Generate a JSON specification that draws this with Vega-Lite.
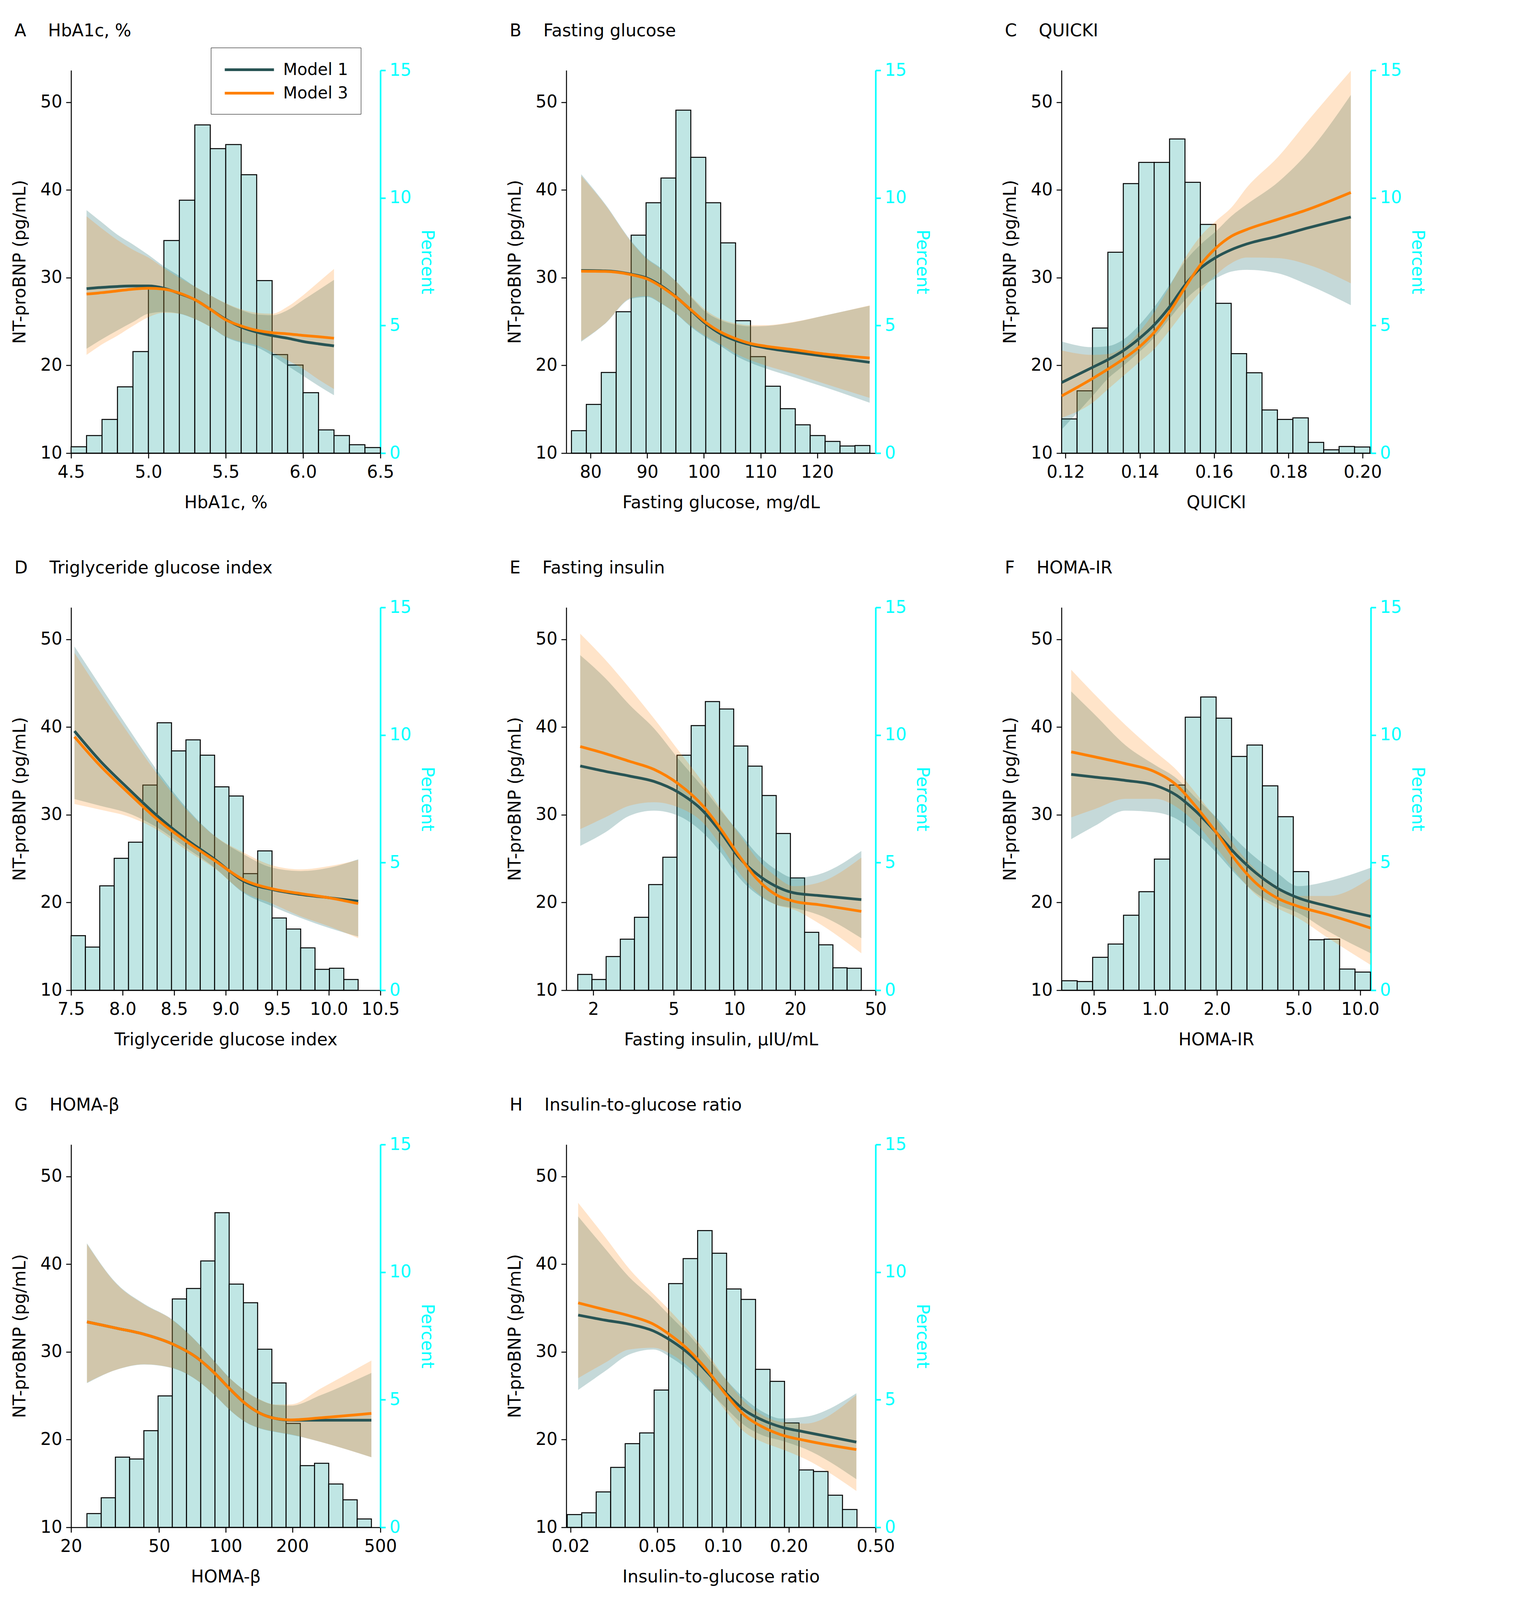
{
  "$schema": "https://vega.github.io/schema/vega-lite/v6.json",
  "padding": {"left": 29, "top": 57, "right": 30, "bottom": 30},
  "columns": 3,
  "bounds": "flush",
  "spacing": {"row": 395, "column": 476},
  "resolve": {"scale": {"stroke": "independent"}},
  "datasets": {
    "hA": [
      {"b0": 4.5, "b1": 4.6, "p": 0.25}, {"b0": 4.6, "b1": 4.7, "p": 0.69}, {"b0": 4.7, "b1": 4.8, "p": 1.32}, {"b0": 4.8, "b1": 4.9, "p": 2.6},
      {"b0": 4.9, "b1": 5.0, "p": 3.98}, {"b0": 5.0, "b1": 5.1, "p": 6.46}, {"b0": 5.1, "b1": 5.2, "p": 8.33}, {"b0": 5.2, "b1": 5.3, "p": 9.91},
      {"b0": 5.3, "b1": 5.4, "p": 12.86}, {"b0": 5.4, "b1": 5.5, "p": 11.93}, {"b0": 5.5, "b1": 5.6, "p": 12.09}, {"b0": 5.6, "b1": 5.7, "p": 10.91},
      {"b0": 5.7, "b1": 5.8, "p": 6.76}, {"b0": 5.8, "b1": 5.9, "p": 3.86}, {"b0": 5.9, "b1": 6.0, "p": 3.45}, {"b0": 6.0, "b1": 6.1, "p": 2.37},
      {"b0": 6.1, "b1": 6.2, "p": 0.91}, {"b0": 6.2, "b1": 6.3, "p": 0.69}, {"b0": 6.3, "b1": 6.4, "p": 0.33}, {"b0": 6.4, "b1": 6.5, "p": 0.22}
    ],
    "cA": [
      {"x": 4.6, "m": "Model 1", "fit": 28.75, "lo": 21.9, "hi": 37.7}, {"x": 4.7, "m": "Model 1", "fit": 28.9, "lo": 23.0, "hi": 36.3},
      {"x": 4.8, "m": "Model 1", "fit": 29.0, "lo": 24.0, "hi": 34.9}, {"x": 4.9, "m": "Model 1", "fit": 29.06, "lo": 24.95, "hi": 33.8},
      {"x": 5.0, "m": "Model 1", "fit": 29.06, "lo": 25.9, "hi": 32.6}, {"x": 5.1, "m": "Model 1", "fit": 28.8, "lo": 26.1, "hi": 31.3},
      {"x": 5.2, "m": "Model 1", "fit": 28.2, "lo": 25.9, "hi": 30.2}, {"x": 5.3, "m": "Model 1", "fit": 27.5, "lo": 25.3, "hi": 29.0},
      {"x": 5.4, "m": "Model 1", "fit": 26.4, "lo": 24.4, "hi": 28.0}, {"x": 5.5, "m": "Model 1", "fit": 25.26, "lo": 23.23, "hi": 27.06},
      {"x": 5.6, "m": "Model 1", "fit": 24.38, "lo": 22.58, "hi": 26.3}, {"x": 5.7, "m": "Model 1", "fit": 23.8, "lo": 22.08, "hi": 25.8},
      {"x": 5.8, "m": "Model 1", "fit": 23.4, "lo": 21.12, "hi": 25.72}, {"x": 5.9, "m": "Model 1", "fit": 23.1, "lo": 19.97, "hi": 26.3},
      {"x": 6.0, "m": "Model 1", "fit": 22.73, "lo": 18.82, "hi": 27.45}, {"x": 6.1, "m": "Model 1", "fit": 22.46, "lo": 17.67, "hi": 28.6},
      {"x": 6.2, "m": "Model 1", "fit": 22.23, "lo": 16.6, "hi": 29.75},
      {"x": 4.6, "m": "Model 3", "fit": 28.14, "lo": 21.2, "hi": 37.0}, {"x": 4.7, "m": "Model 3", "fit": 28.3, "lo": 22.4, "hi": 35.6},
      {"x": 4.8, "m": "Model 3", "fit": 28.5, "lo": 23.4, "hi": 34.3}, {"x": 4.9, "m": "Model 3", "fit": 28.7, "lo": 24.5, "hi": 33.2},
      {"x": 5.0, "m": "Model 3", "fit": 28.8, "lo": 25.5, "hi": 32.3}, {"x": 5.1, "m": "Model 3", "fit": 28.7, "lo": 26.0, "hi": 31.1},
      {"x": 5.2, "m": "Model 3", "fit": 28.25, "lo": 25.9, "hi": 30.0}, {"x": 5.3, "m": "Model 3", "fit": 27.5, "lo": 25.3, "hi": 29.0},
      {"x": 5.4, "m": "Model 3", "fit": 26.4, "lo": 24.4, "hi": 28.0}, {"x": 5.5, "m": "Model 3", "fit": 25.2, "lo": 23.3, "hi": 27.1},
      {"x": 5.6, "m": "Model 3", "fit": 24.5, "lo": 22.7, "hi": 26.4}, {"x": 5.7, "m": "Model 3", "fit": 24.0, "lo": 22.3, "hi": 26.0},
      {"x": 5.8, "m": "Model 3", "fit": 23.73, "lo": 21.5, "hi": 25.9}, {"x": 5.9, "m": "Model 3", "fit": 23.6, "lo": 20.6, "hi": 26.7},
      {"x": 6.0, "m": "Model 3", "fit": 23.42, "lo": 19.6, "hi": 28.0}, {"x": 6.1, "m": "Model 3", "fit": 23.27, "lo": 18.4, "hi": 29.5},
      {"x": 6.2, "m": "Model 3", "fit": 23.1, "lo": 17.3, "hi": 31.0}
    ],
    "hB": [
      {"b0": 76.61, "b1": 79.24, "p": 0.88}, {"b0": 79.24, "b1": 81.88, "p": 1.91}, {"b0": 81.88, "b1": 84.51, "p": 3.16}, {"b0": 84.51, "b1": 87.15, "p": 5.54},
      {"b0": 87.15, "b1": 89.78, "p": 8.54}, {"b0": 89.78, "b1": 92.41, "p": 9.81}, {"b0": 92.41, "b1": 95.05, "p": 10.78}, {"b0": 95.05, "b1": 97.68, "p": 13.44},
      {"b0": 97.68, "b1": 100.32, "p": 11.59}, {"b0": 100.32, "b1": 102.95, "p": 9.81}, {"b0": 102.95, "b1": 105.58, "p": 8.24}, {"b0": 105.58, "b1": 108.22, "p": 5.19},
      {"b0": 108.22, "b1": 110.85, "p": 3.78}, {"b0": 110.85, "b1": 113.49, "p": 2.62}, {"b0": 113.49, "b1": 116.12, "p": 1.74}, {"b0": 116.12, "b1": 118.75, "p": 1.11},
      {"b0": 118.75, "b1": 121.39, "p": 0.69}, {"b0": 121.39, "b1": 124.02, "p": 0.46}, {"b0": 124.02, "b1": 126.66, "p": 0.28}, {"b0": 126.66, "b1": 129.29, "p": 0.3}
    ],
    "cB": [
      {"x": 78.33, "m": "Model 1", "fit": 30.82, "lo": 22.7, "hi": 41.8}, {"x": 82.58, "m": "Model 1", "fit": 30.78, "lo": 24.76, "hi": 38.4},
      {"x": 87.15, "m": "Model 1", "fit": 30.4, "lo": 27.6, "hi": 34.2}, {"x": 90.0, "m": "Model 1", "fit": 29.94, "lo": 27.8, "hi": 32.2},
      {"x": 92.42, "m": "Model 1", "fit": 29.1, "lo": 27.06, "hi": 31.1}, {"x": 95.05, "m": "Model 1", "fit": 27.83, "lo": 25.9, "hi": 29.6},
      {"x": 97.69, "m": "Model 1", "fit": 26.3, "lo": 24.4, "hi": 27.8}, {"x": 100.32, "m": "Model 1", "fit": 24.76, "lo": 23.2, "hi": 26.1},
      {"x": 102.96, "m": "Model 1", "fit": 23.6, "lo": 22.2, "hi": 25.15}, {"x": 105.59, "m": "Model 1", "fit": 22.85, "lo": 21.1, "hi": 24.65},
      {"x": 108.23, "m": "Model 1", "fit": 22.35, "lo": 20.3, "hi": 24.45}, {"x": 110.86, "m": "Model 1", "fit": 22.0, "lo": 19.66, "hi": 24.5},
      {"x": 116.13, "m": "Model 1", "fit": 21.5, "lo": 18.6, "hi": 24.95}, {"x": 121.4, "m": "Model 1", "fit": 21.04, "lo": 17.5, "hi": 25.7},
      {"x": 129.25, "m": "Model 1", "fit": 20.35, "lo": 15.75, "hi": 26.8},
      {"x": 78.33, "m": "Model 3", "fit": 30.75, "lo": 22.8, "hi": 41.6}, {"x": 82.58, "m": "Model 3", "fit": 30.72, "lo": 24.8, "hi": 38.3},
      {"x": 87.15, "m": "Model 3", "fit": 30.35, "lo": 27.7, "hi": 34.1}, {"x": 90.0, "m": "Model 3", "fit": 29.85, "lo": 27.9, "hi": 32.1},
      {"x": 92.42, "m": "Model 3", "fit": 29.0, "lo": 27.1, "hi": 31.0}, {"x": 95.05, "m": "Model 3", "fit": 27.8, "lo": 25.95, "hi": 29.6},
      {"x": 97.69, "m": "Model 3", "fit": 26.35, "lo": 24.5, "hi": 27.9}, {"x": 100.32, "m": "Model 3", "fit": 24.9, "lo": 23.35, "hi": 26.3},
      {"x": 102.96, "m": "Model 3", "fit": 23.8, "lo": 22.4, "hi": 25.3}, {"x": 105.59, "m": "Model 3", "fit": 23.05, "lo": 21.35, "hi": 24.8},
      {"x": 108.23, "m": "Model 3", "fit": 22.5, "lo": 20.6, "hi": 24.6}, {"x": 110.86, "m": "Model 3", "fit": 22.2, "lo": 20.0, "hi": 24.6},
      {"x": 116.13, "m": "Model 3", "fit": 21.77, "lo": 19.0, "hi": 25.0}, {"x": 121.4, "m": "Model 3", "fit": 21.3, "lo": 17.9, "hi": 25.7},
      {"x": 129.25, "m": "Model 3", "fit": 20.85, "lo": 16.3, "hi": 26.85}
    ],
    "hC": [
      {"b0": 0.11894, "b1": 0.12309, "p": 1.34}, {"b0": 0.12309, "b1": 0.12724, "p": 2.44}, {"b0": 0.12724, "b1": 0.13139, "p": 4.9}, {"b0": 0.13139, "b1": 0.13554, "p": 7.87},
      {"b0": 0.13554, "b1": 0.1397, "p": 10.56}, {"b0": 0.1397, "b1": 0.14385, "p": 11.39}, {"b0": 0.14385, "b1": 0.148, "p": 11.39}, {"b0": 0.148, "b1": 0.15215, "p": 12.31},
      {"b0": 0.15215, "b1": 0.1563, "p": 10.61}, {"b0": 0.1563, "b1": 0.16045, "p": 8.96}, {"b0": 0.16045, "b1": 0.1646, "p": 5.87}, {"b0": 0.1646, "b1": 0.16875, "p": 3.9},
      {"b0": 0.16875, "b1": 0.1729, "p": 3.15}, {"b0": 0.1729, "b1": 0.17705, "p": 1.69}, {"b0": 0.17705, "b1": 0.18121, "p": 1.32}, {"b0": 0.18121, "b1": 0.18536, "p": 1.38},
      {"b0": 0.18536, "b1": 0.18951, "p": 0.42}, {"b0": 0.18951, "b1": 0.19366, "p": 0.13}, {"b0": 0.19366, "b1": 0.19781, "p": 0.26}, {"b0": 0.19781, "b1": 0.20196, "p": 0.24}
    ],
    "cC": [
      {"x": 0.11894, "m": "Model 1", "fit": 18.05, "lo": 12.68, "hi": 22.73}, {"x": 0.12727, "m": "Model 1", "fit": 19.78, "lo": 16.52, "hi": 22.08},
      {"x": 0.13143, "m": "Model 1", "fit": 20.66, "lo": 18.51, "hi": 22.2}, {"x": 0.13559, "m": "Model 1", "fit": 21.7, "lo": 19.97, "hi": 22.96},
      {"x": 0.13976, "m": "Model 1", "fit": 23.04, "lo": 21.5, "hi": 24.57}, {"x": 0.14392, "m": "Model 1", "fit": 24.65, "lo": 23.23, "hi": 26.68},
      {"x": 0.148, "m": "Model 1", "fit": 26.68, "lo": 25.34, "hi": 29.17}, {"x": 0.15216, "m": "Model 1", "fit": 29.17, "lo": 27.45, "hi": 31.86},
      {"x": 0.15633, "m": "Model 1", "fit": 31.09, "lo": 28.98, "hi": 33.77}, {"x": 0.16049, "m": "Model 1", "fit": 32.32, "lo": 29.94, "hi": 35.3},
      {"x": 0.16465, "m": "Model 1", "fit": 33.2, "lo": 30.7, "hi": 37.03}, {"x": 0.16882, "m": "Model 1", "fit": 33.85, "lo": 30.9, "hi": 38.37},
      {"x": 0.17714, "m": "Model 1", "fit": 34.73, "lo": 30.51, "hi": 40.87}, {"x": 0.18539, "m": "Model 1", "fit": 35.69, "lo": 29.17, "hi": 44.32},
      {"x": 0.19682, "m": "Model 1", "fit": 36.92, "lo": 26.87, "hi": 50.84},
      {"x": 0.11894, "m": "Model 3", "fit": 16.52, "lo": 14.03, "hi": 21.7}, {"x": 0.12727, "m": "Model 3", "fit": 18.51, "lo": 15.75, "hi": 21.2},
      {"x": 0.13143, "m": "Model 3", "fit": 19.59, "lo": 17.29, "hi": 21.3}, {"x": 0.13559, "m": "Model 3", "fit": 20.74, "lo": 18.82, "hi": 22.08},
      {"x": 0.13976, "m": "Model 3", "fit": 22.08, "lo": 20.35, "hi": 23.8}, {"x": 0.14392, "m": "Model 3", "fit": 23.8, "lo": 21.89, "hi": 26.1},
      {"x": 0.148, "m": "Model 3", "fit": 26.1, "lo": 24.0, "hi": 28.98}, {"x": 0.15216, "m": "Model 3", "fit": 28.87, "lo": 26.3, "hi": 32.24},
      {"x": 0.15633, "m": "Model 3", "fit": 31.47, "lo": 28.4, "hi": 34.73}, {"x": 0.16049, "m": "Model 3", "fit": 33.39, "lo": 30.32, "hi": 36.46},
      {"x": 0.16465, "m": "Model 3", "fit": 34.73, "lo": 31.66, "hi": 38.0}, {"x": 0.16882, "m": "Model 3", "fit": 35.5, "lo": 32.3, "hi": 40.3},
      {"x": 0.17714, "m": "Model 3", "fit": 36.65, "lo": 32.24, "hi": 43.74}, {"x": 0.18539, "m": "Model 3", "fit": 37.8, "lo": 31.47, "hi": 47.96},
      {"x": 0.19682, "m": "Model 3", "fit": 39.72, "lo": 29.36, "hi": 53.6}
    ],
    "hD": [
      {"b0": 7.5, "b1": 7.639, "p": 2.14}, {"b0": 7.639, "b1": 7.778, "p": 1.69}, {"b0": 7.778, "b1": 7.918, "p": 4.09}, {"b0": 7.918, "b1": 8.057, "p": 5.17},
      {"b0": 8.057, "b1": 8.196, "p": 5.8}, {"b0": 8.196, "b1": 8.335, "p": 8.04}, {"b0": 8.335, "b1": 8.474, "p": 10.48}, {"b0": 8.474, "b1": 8.614, "p": 9.38},
      {"b0": 8.614, "b1": 8.753, "p": 9.81}, {"b0": 8.753, "b1": 8.892, "p": 9.21}, {"b0": 8.892, "b1": 9.031, "p": 7.97}, {"b0": 9.031, "b1": 9.17, "p": 7.61},
      {"b0": 9.17, "b1": 9.31, "p": 4.57}, {"b0": 9.31, "b1": 9.449, "p": 5.46}, {"b0": 9.449, "b1": 9.588, "p": 2.83}, {"b0": 9.588, "b1": 9.727, "p": 2.4},
      {"b0": 9.727, "b1": 9.866, "p": 1.66}, {"b0": 9.866, "b1": 10.006, "p": 0.82}, {"b0": 10.006, "b1": 10.145, "p": 0.86}, {"b0": 10.145, "b1": 10.284, "p": 0.42}
    ],
    "cD": [
      {"x": 7.533, "m": "Model 1", "fit": 39.55, "lo": 31.8, "hi": 49.2}, {"x": 7.778, "m": "Model 1", "fit": 36.2, "lo": 31.05, "hi": 44.8},
      {"x": 8.056, "m": "Model 1", "fit": 32.97, "lo": 30.18, "hi": 39.86}, {"x": 8.334, "m": "Model 1", "fit": 29.9, "lo": 28.57, "hi": 35.07},
      {"x": 8.614, "m": "Model 1", "fit": 27.24, "lo": 26.28, "hi": 30.86}, {"x": 8.892, "m": "Model 1", "fit": 24.94, "lo": 23.98, "hi": 27.6},
      {"x": 9.173, "m": "Model 1", "fit": 22.45, "lo": 21.1, "hi": 25.5}, {"x": 9.451, "m": "Model 1", "fit": 21.49, "lo": 19.57, "hi": 23.97},
      {"x": 9.729, "m": "Model 1", "fit": 20.92, "lo": 18.23, "hi": 23.59}, {"x": 10.007, "m": "Model 1", "fit": 20.54, "lo": 17.08, "hi": 23.97},
      {"x": 10.285, "m": "Model 1", "fit": 20.15, "lo": 16.12, "hi": 24.93},
      {"x": 7.533, "m": "Model 3", "fit": 38.9, "lo": 31.24, "hi": 48.47}, {"x": 7.778, "m": "Model 3", "fit": 35.65, "lo": 30.6, "hi": 44.07},
      {"x": 8.056, "m": "Model 3", "fit": 32.5, "lo": 29.8, "hi": 39.28}, {"x": 8.334, "m": "Model 3", "fit": 29.5, "lo": 28.3, "hi": 34.69},
      {"x": 8.614, "m": "Model 3", "fit": 27.0, "lo": 26.0, "hi": 30.67}, {"x": 8.892, "m": "Model 3", "fit": 24.8, "lo": 23.9, "hi": 27.6},
      {"x": 9.173, "m": "Model 3", "fit": 22.6, "lo": 21.2, "hi": 25.7}, {"x": 9.451, "m": "Model 3", "fit": 21.56, "lo": 19.88, "hi": 24.24},
      {"x": 9.729, "m": "Model 3", "fit": 21.02, "lo": 18.42, "hi": 23.78}, {"x": 10.007, "m": "Model 3", "fit": 20.53, "lo": 17.27, "hi": 24.16},
      {"x": 10.285, "m": "Model 3", "fit": 19.88, "lo": 15.93, "hi": 24.87}
    ],
    "hE": [
      {"b0": 1.675, "b1": 1.97, "p": 0.62}, {"b0": 1.97, "b1": 2.315, "p": 0.42}, {"b0": 2.315, "b1": 2.721, "p": 1.32}, {"b0": 2.721, "b1": 3.198, "p": 2.0},
      {"b0": 3.198, "b1": 3.76, "p": 2.86}, {"b0": 3.76, "b1": 4.419, "p": 4.14}, {"b0": 4.419, "b1": 5.194, "p": 5.21}, {"b0": 5.194, "b1": 6.106, "p": 9.21},
      {"b0": 6.106, "b1": 7.177, "p": 10.37}, {"b0": 7.177, "b1": 8.436, "p": 11.31}, {"b0": 8.436, "b1": 9.915, "p": 11.02}, {"b0": 9.915, "b1": 11.65, "p": 9.57},
      {"b0": 11.65, "b1": 13.7, "p": 8.78}, {"b0": 13.7, "b1": 16.1, "p": 7.63}, {"b0": 16.1, "b1": 18.93, "p": 6.14}, {"b0": 18.93, "b1": 22.25, "p": 4.4},
      {"b0": 22.25, "b1": 26.15, "p": 2.27}, {"b0": 26.15, "b1": 30.74, "p": 1.78}, {"b0": 30.74, "b1": 36.13, "p": 0.88}, {"b0": 36.13, "b1": 42.47, "p": 0.86}
    ],
    "cE": [
      {"x": 1.723, "m": "Model 1", "fit": 35.57, "lo": 26.46, "hi": 48.2}, {"x": 2.29, "m": "Model 1", "fit": 34.96, "lo": 27.99, "hi": 45.6},
      {"x": 3.024, "m": "Model 1", "fit": 34.42, "lo": 29.9, "hi": 42.54}, {"x": 3.993, "m": "Model 1", "fit": 33.81, "lo": 30.48, "hi": 39.86},
      {"x": 5.27, "m": "Model 1", "fit": 32.58, "lo": 29.9, "hi": 36.41}, {"x": 6.96, "m": "Model 1", "fit": 30.48, "lo": 27.99, "hi": 33.16},
      {"x": 8.57, "m": "Model 1", "fit": 27.99, "lo": 25.69, "hi": 30.48}, {"x": 10.56, "m": "Model 1", "fit": 25.12, "lo": 22.82, "hi": 27.99},
      {"x": 13.0, "m": "Model 1", "fit": 23.2, "lo": 20.91, "hi": 25.5}, {"x": 16.01, "m": "Model 1", "fit": 21.87, "lo": 19.77, "hi": 23.78},
      {"x": 19.72, "m": "Model 1", "fit": 21.1, "lo": 19.38, "hi": 22.82}, {"x": 26.04, "m": "Model 1", "fit": 20.8, "lo": 18.61, "hi": 23.2},
      {"x": 42.5, "m": "Model 1", "fit": 20.33, "lo": 15.93, "hi": 25.88},
      {"x": 1.723, "m": "Model 3", "fit": 37.79, "lo": 28.37, "hi": 50.65}, {"x": 2.29, "m": "Model 3", "fit": 36.99, "lo": 29.71, "hi": 47.7},
      {"x": 3.024, "m": "Model 3", "fit": 36.1, "lo": 31.05, "hi": 44.45}, {"x": 3.993, "m": "Model 3", "fit": 35.19, "lo": 31.44, "hi": 41.0},
      {"x": 5.27, "m": "Model 3", "fit": 33.54, "lo": 30.86, "hi": 37.37}, {"x": 6.96, "m": "Model 3", "fit": 31.05, "lo": 29.14, "hi": 33.73},
      {"x": 8.57, "m": "Model 3", "fit": 28.37, "lo": 26.46, "hi": 30.67}, {"x": 10.56, "m": "Model 3", "fit": 25.31, "lo": 23.4, "hi": 27.8},
      {"x": 13.0, "m": "Model 3", "fit": 22.63, "lo": 21.1, "hi": 24.93}, {"x": 16.01, "m": "Model 3", "fit": 20.91, "lo": 19.77, "hi": 23.01},
      {"x": 19.72, "m": "Model 3", "fit": 20.14, "lo": 19.19, "hi": 21.87}, {"x": 26.04, "m": "Model 3", "fit": 19.76, "lo": 17.66, "hi": 22.25},
      {"x": 42.5, "m": "Model 3", "fit": 18.99, "lo": 14.21, "hi": 25.12}
    ],
    "hF": [
      {"b0": 0.3491, "b1": 0.4151, "p": 0.37}, {"b0": 0.4151, "b1": 0.4939, "p": 0.34}, {"b0": 0.4939, "b1": 0.5875, "p": 1.29}, {"b0": 0.5875, "b1": 0.6989, "p": 1.81},
      {"b0": 0.6989, "b1": 0.8313, "p": 2.94}, {"b0": 0.8313, "b1": 0.9888, "p": 3.86}, {"b0": 0.9888, "b1": 1.1763, "p": 5.14}, {"b0": 1.1763, "b1": 1.3992, "p": 8.04},
      {"b0": 1.3992, "b1": 1.6643, "p": 10.7}, {"b0": 1.6643, "b1": 1.9797, "p": 11.49}, {"b0": 1.9797, "b1": 2.3547, "p": 10.66}, {"b0": 2.3547, "b1": 2.801, "p": 9.16},
      {"b0": 2.801, "b1": 3.332, "p": 9.61}, {"b0": 3.332, "b1": 3.9628, "p": 8.01}, {"b0": 3.9628, "b1": 4.7141, "p": 6.8}, {"b0": 4.7141, "b1": 5.608, "p": 4.65},
      {"b0": 5.608, "b1": 6.67, "p": 1.98}, {"b0": 6.67, "b1": 7.934, "p": 2.0}, {"b0": 7.934, "b1": 9.4365, "p": 0.83}, {"b0": 9.4365, "b1": 11.225, "p": 0.71}
    ],
    "cF": [
      {"x": 0.388, "m": "Model 1", "fit": 34.61, "lo": 27.23, "hi": 44.07}, {"x": 0.5077, "m": "Model 1", "fit": 34.3, "lo": 28.76, "hi": 41.39},
      {"x": 0.714, "m": "Model 1", "fit": 33.92, "lo": 30.48, "hi": 37.94}, {"x": 1.0, "m": "Model 1", "fit": 33.35, "lo": 30.29, "hi": 35.65},
      {"x": 1.274, "m": "Model 1", "fit": 32.2, "lo": 29.52, "hi": 34.12}, {"x": 1.563, "m": "Model 1", "fit": 30.48, "lo": 27.99, "hi": 32.01},
      {"x": 1.983, "m": "Model 1", "fit": 27.99, "lo": 25.69, "hi": 29.71}, {"x": 2.517, "m": "Model 1", "fit": 25.31, "lo": 23.01, "hi": 27.03},
      {"x": 3.087, "m": "Model 1", "fit": 23.4, "lo": 21.1, "hi": 25.12}, {"x": 3.92, "m": "Model 1", "fit": 21.67, "lo": 19.77, "hi": 23.4},
      {"x": 4.975, "m": "Model 1", "fit": 20.53, "lo": 18.82, "hi": 21.87}, {"x": 6.994, "m": "Model 1", "fit": 19.57, "lo": 16.71, "hi": 22.44},
      {"x": 11.27, "m": "Model 1", "fit": 18.42, "lo": 14.21, "hi": 23.97},
      {"x": 0.388, "m": "Model 3", "fit": 37.18, "lo": 29.71, "hi": 46.55}, {"x": 0.5077, "m": "Model 3", "fit": 36.6, "lo": 30.67, "hi": 43.68},
      {"x": 0.714, "m": "Model 3", "fit": 35.84, "lo": 31.82, "hi": 40.24}, {"x": 1.0, "m": "Model 3", "fit": 34.88, "lo": 31.82, "hi": 37.18},
      {"x": 1.274, "m": "Model 3", "fit": 33.35, "lo": 30.86, "hi": 35.07}, {"x": 1.563, "m": "Model 3", "fit": 31.05, "lo": 29.14, "hi": 32.58},
      {"x": 1.983, "m": "Model 3", "fit": 27.99, "lo": 26.27, "hi": 29.52}, {"x": 2.517, "m": "Model 3", "fit": 24.55, "lo": 23.2, "hi": 26.07},
      {"x": 3.087, "m": "Model 3", "fit": 22.25, "lo": 20.91, "hi": 23.78}, {"x": 3.92, "m": "Model 3", "fit": 20.53, "lo": 19.38, "hi": 21.87},
      {"x": 4.975, "m": "Model 3", "fit": 19.57, "lo": 18.23, "hi": 20.74}, {"x": 6.994, "m": "Model 3", "fit": 18.61, "lo": 15.93, "hi": 20.74},
      {"x": 11.27, "m": "Model 3", "fit": 17.08, "lo": 12.87, "hi": 22.82}
    ],
    "hG": [
      {"b0": 23.59, "b1": 27.36, "p": 0.54}, {"b0": 27.36, "b1": 31.72, "p": 1.16}, {"b0": 31.72, "b1": 36.78, "p": 2.75}, {"b0": 36.78, "b1": 42.65, "p": 2.68},
      {"b0": 42.65, "b1": 49.45, "p": 3.79}, {"b0": 49.45, "b1": 57.34, "p": 5.15}, {"b0": 57.34, "b1": 66.49, "p": 8.95}, {"b0": 66.49, "b1": 77.09, "p": 9.36},
      {"b0": 77.09, "b1": 89.39, "p": 10.44}, {"b0": 89.39, "b1": 103.65, "p": 12.33}, {"b0": 103.65, "b1": 120.18, "p": 9.53}, {"b0": 120.18, "b1": 139.36, "p": 8.8},
      {"b0": 139.36, "b1": 161.59, "p": 6.98}, {"b0": 161.59, "b1": 187.37, "p": 5.66}, {"b0": 187.37, "b1": 217.26, "p": 4.07}, {"b0": 217.26, "b1": 251.92, "p": 2.42},
      {"b0": 251.92, "b1": 292.11, "p": 2.51}, {"b0": 292.11, "b1": 338.71, "p": 1.7}, {"b0": 338.71, "b1": 392.74, "p": 1.08}, {"b0": 392.74, "b1": 455.39, "p": 0.33}
    ],
    "cG": [
      {"x": 23.59, "m": "Model 1", "fit": 33.43, "lo": 26.44, "hi": 42.39}, {"x": 32.2, "m": "Model 1", "fit": 32.7, "lo": 27.98, "hi": 37.78},
      {"x": 42.86, "m": "Model 1", "fit": 32.01, "lo": 28.56, "hi": 35.47}, {"x": 57.04, "m": "Model 1", "fit": 30.94, "lo": 28.17, "hi": 33.74},
      {"x": 73.54, "m": "Model 1", "fit": 29.4, "lo": 26.83, "hi": 31.24}, {"x": 88.96, "m": "Model 1", "fit": 27.6, "lo": 25.1, "hi": 28.94},
      {"x": 104.3, "m": "Model 1", "fit": 25.79, "lo": 23.37, "hi": 27.02}, {"x": 122.3, "m": "Model 1", "fit": 24.14, "lo": 22.02, "hi": 25.56},
      {"x": 143.3, "m": "Model 1", "fit": 22.99, "lo": 21.26, "hi": 24.52}, {"x": 168.0, "m": "Model 1", "fit": 22.41, "lo": 20.87, "hi": 23.95},
      {"x": 196.9, "m": "Model 1", "fit": 22.22, "lo": 20.56, "hi": 23.87}, {"x": 270.4, "m": "Model 1", "fit": 22.22, "lo": 19.72, "hi": 25.1},
      {"x": 455.3, "m": "Model 1", "fit": 22.22, "lo": 17.99, "hi": 27.6},
      {"x": 23.59, "m": "Model 3", "fit": 33.43, "lo": 26.5, "hi": 42.3}, {"x": 32.2, "m": "Model 3", "fit": 32.7, "lo": 28.0, "hi": 37.7},
      {"x": 42.86, "m": "Model 3", "fit": 32.01, "lo": 28.6, "hi": 35.4}, {"x": 57.04, "m": "Model 3", "fit": 30.94, "lo": 28.2, "hi": 33.7},
      {"x": 73.54, "m": "Model 3", "fit": 29.4, "lo": 26.85, "hi": 31.2}, {"x": 88.96, "m": "Model 3", "fit": 27.6, "lo": 25.1, "hi": 28.9},
      {"x": 104.3, "m": "Model 3", "fit": 25.79, "lo": 23.4, "hi": 27.0}, {"x": 122.3, "m": "Model 3", "fit": 24.14, "lo": 22.05, "hi": 25.6},
      {"x": 143.3, "m": "Model 3", "fit": 22.99, "lo": 21.3, "hi": 24.55}, {"x": 168.0, "m": "Model 3", "fit": 22.41, "lo": 20.9, "hi": 24.0},
      {"x": 196.9, "m": "Model 3", "fit": 22.25, "lo": 20.6, "hi": 24.02}, {"x": 270.4, "m": "Model 3", "fit": 22.49, "lo": 19.72, "hi": 25.87},
      {"x": 455.3, "m": "Model 3", "fit": 22.99, "lo": 18.0, "hi": 29.02}
    ],
    "hH": [
      {"b0": 0.019311, "b1": 0.022502, "p": 0.5}, {"b0": 0.022502, "b1": 0.026214, "p": 0.57}, {"b0": 0.026214, "b1": 0.030545, "p": 1.39}, {"b0": 0.030545, "b1": 0.03559, "p": 2.35},
      {"b0": 0.03559, "b1": 0.041466, "p": 3.28}, {"b0": 0.041466, "b1": 0.048316, "p": 3.7}, {"b0": 0.048316, "b1": 0.056298, "p": 5.38}, {"b0": 0.056298, "b1": 0.065597, "p": 9.55},
      {"b0": 0.065597, "b1": 0.076432, "p": 10.53}, {"b0": 0.076432, "b1": 0.089056, "p": 11.63}, {"b0": 0.089056, "b1": 0.10377, "p": 10.74}, {"b0": 0.10377, "b1": 0.1209, "p": 9.34},
      {"b0": 0.1209, "b1": 0.14087, "p": 8.93}, {"b0": 0.14087, "b1": 0.16415, "p": 6.19}, {"b0": 0.16415, "b1": 0.19126, "p": 5.72}, {"b0": 0.19126, "b1": 0.22286, "p": 4.09},
      {"b0": 0.22286, "b1": 0.25967, "p": 2.25}, {"b0": 0.25967, "b1": 0.30256, "p": 2.19}, {"b0": 0.30256, "b1": 0.35254, "p": 1.26}, {"b0": 0.35254, "b1": 0.41077, "p": 0.7}
    ],
    "cH": [
      {"x": 0.02167, "m": "Model 1", "fit": 34.2, "lo": 25.67, "hi": 45.46}, {"x": 0.02872, "m": "Model 1", "fit": 33.63, "lo": 27.79, "hi": 41.81},
      {"x": 0.03711, "m": "Model 1", "fit": 33.17, "lo": 29.71, "hi": 38.54}, {"x": 0.04793, "m": "Model 1", "fit": 32.4, "lo": 30.28, "hi": 36.05},
      {"x": 0.05808, "m": "Model 1", "fit": 31.25, "lo": 29.32, "hi": 33.93}, {"x": 0.07041, "m": "Model 1", "fit": 29.71, "lo": 27.79, "hi": 31.82},
      {"x": 0.08533, "m": "Model 1", "fit": 27.6, "lo": 25.67, "hi": 29.32}, {"x": 0.1034, "m": "Model 1", "fit": 25.29, "lo": 23.56, "hi": 26.83},
      {"x": 0.12524, "m": "Model 1", "fit": 23.37, "lo": 21.64, "hi": 24.71}, {"x": 0.15181, "m": "Model 1", "fit": 22.22, "lo": 20.49, "hi": 23.18},
      {"x": 0.18395, "m": "Model 1", "fit": 21.45, "lo": 19.91, "hi": 22.41}, {"x": 0.2377, "m": "Model 1", "fit": 20.87, "lo": 18.95, "hi": 22.6},
      {"x": 0.4082, "m": "Model 1", "fit": 19.72, "lo": 15.49, "hi": 25.29},
      {"x": 0.02167, "m": "Model 3", "fit": 35.59, "lo": 27.02, "hi": 47.0}, {"x": 0.02872, "m": "Model 3", "fit": 34.82, "lo": 28.75, "hi": 43.15},
      {"x": 0.03711, "m": "Model 3", "fit": 34.13, "lo": 30.28, "hi": 39.5}, {"x": 0.04793, "m": "Model 3", "fit": 33.17, "lo": 30.48, "hi": 36.62},
      {"x": 0.05808, "m": "Model 3", "fit": 31.82, "lo": 29.71, "hi": 34.51}, {"x": 0.07041, "m": "Model 3", "fit": 30.09, "lo": 28.17, "hi": 32.21},
      {"x": 0.08533, "m": "Model 3", "fit": 27.79, "lo": 25.87, "hi": 29.71}, {"x": 0.1034, "m": "Model 3", "fit": 25.1, "lo": 23.18, "hi": 26.83},
      {"x": 0.12524, "m": "Model 3", "fit": 22.79, "lo": 20.87, "hi": 24.33}, {"x": 0.15181, "m": "Model 3", "fit": 21.45, "lo": 19.72, "hi": 22.79},
      {"x": 0.18395, "m": "Model 3", "fit": 20.56, "lo": 18.95, "hi": 22.02}, {"x": 0.2377, "m": "Model 3", "fit": 19.91, "lo": 17.8, "hi": 21.83},
      {"x": 0.4082, "m": "Model 3", "fit": 18.87, "lo": 14.15, "hi": 25.1}
    ]
  },
  "concat": [
    {
      "width": 792, "height": 980,
      "title": {"text": "A\u00a0\u00a0\u00a0\u00a0HbA1c, %", "offset": 20},
      "layer": [
        {"data": {"name": "hA"}, "mark": {"type": "rect", "fill": "#c0e6e4", "stroke": "black", "strokeWidth": 2.5},
         "encoding": {
           "x": {"field": "b0", "type": "quantitative", "scale": {"domain": [4.5, 6.5], "nice": false, "zero": false}, "axis": {"values": [4.5, 5, 5.5, 6, 6.5], "format": ".1f"}, "title": "HbA1c, %"},
           "x2": {"field": "b1"},
           "y": {"field": "p", "type": "quantitative", "scale": {"domain": [0, 15], "nice": false}, "axis": {"orient": "right", "values": [0, 5, 10, 15]}, "title": "Percent"},
           "y2": {"datum": 0}
         }},
        {"data": {"name": "cA"},
         "encoding": {"x": {"field": "x", "type": "quantitative", "scale": {"domain": [4.5, 6.5], "nice": false, "zero": false}, "title": "HbA1c, %"}},
         "layer": [
           {"transform": [{"filter": "datum.m == 'Model 1'"}],
            "mark": {"type": "area", "interpolate": "monotone", "clip": true, "fill": "#176767", "fillOpacity": 0.25},
            "encoding": {
              "y": {"field": "lo", "type": "quantitative", "scale": {"domain": [10, 53.65], "nice": false, "zero": false}, "axis": {"orient": "left", "values": [10, 20, 30, 40, 50]}, "title": "NT-proBNP (pg/mL)"},
              "y2": {"field": "hi"}
            }},
           {"transform": [{"filter": "datum.m == 'Model 3'"}],
            "mark": {"type": "area", "interpolate": "monotone", "clip": true, "fill": "#ff8000", "fillOpacity": 0.21},
            "encoding": {"y": {"field": "lo", "type": "quantitative", "title": "NT-proBNP (pg/mL)"}, "y2": {"field": "hi"}}},
           {"mark": {"type": "line", "interpolate": "monotone", "strokeWidth": 7, "clip": true},
            "encoding": {
              "y": {"field": "fit", "type": "quantitative", "title": "NT-proBNP (pg/mL)"},
              "stroke": {"field": "m", "type": "nominal", "scale": {"domain": ["Model 1", "Model 3"], "range": ["#285454", "#ff8000"]},
                "legend": {"title": null, "orient": "none", "legendX": 358, "legendY": -58, "strokeColor": "black", "fillColor": "white", "padding": 32,
                  "labelFontSize": 42, "labelFont": "DejaVu Sans", "labelColor": "black", "labelLimit": 0,
                  "symbolType": "M-1,0H5", "symbolSize": 1764, "symbolStrokeWidth": 7, "rowPadding": 14, "labelOffset": 104}}
            }}
         ]}
      ],
      "resolve": {"scale": {"y": "independent"}}
    },
    {
      "width": 792, "height": 980,
      "title": "B\u00a0\u00a0\u00a0\u00a0Fasting glucose",
      "layer": [
        {"data": {"name": "hB"}, "mark": {"type": "rect", "fill": "#c0e6e4", "stroke": "black", "strokeWidth": 2.5},
         "encoding": {
           "x": {"field": "b0", "type": "quantitative", "scale": {"domain": [75.7, 130.3], "nice": false, "zero": false}, "axis": {"values": [80, 90, 100, 110, 120]}, "title": "Fasting glucose, mg/dL"},
           "x2": {"field": "b1"},
           "y": {"field": "p", "type": "quantitative", "scale": {"domain": [0, 15], "nice": false}, "axis": {"orient": "right", "values": [0, 5, 10, 15]}, "title": "Percent"},
           "y2": {"datum": 0}
         }},
        {"data": {"name": "cB"},
         "encoding": {"x": {"field": "x", "type": "quantitative", "scale": {"domain": [75.7, 130.3], "nice": false, "zero": false}, "title": "Fasting glucose, mg/dL"}},
         "layer": [
           {"transform": [{"filter": "datum.m == 'Model 1'"}],
            "mark": {"type": "area", "interpolate": "monotone", "clip": true, "fill": "#176767", "fillOpacity": 0.25},
            "encoding": {
              "y": {"field": "lo", "type": "quantitative", "scale": {"domain": [10, 53.65], "nice": false, "zero": false}, "axis": {"orient": "left", "values": [10, 20, 30, 40, 50]}, "title": "NT-proBNP (pg/mL)"},
              "y2": {"field": "hi"}
            }},
           {"transform": [{"filter": "datum.m == 'Model 3'"}],
            "mark": {"type": "area", "interpolate": "monotone", "clip": true, "fill": "#ff8000", "fillOpacity": 0.21},
            "encoding": {"y": {"field": "lo", "type": "quantitative", "title": "NT-proBNP (pg/mL)"}, "y2": {"field": "hi"}}},
           {"mark": {"type": "line", "interpolate": "monotone", "strokeWidth": 7, "clip": true},
            "encoding": {
              "y": {"field": "fit", "type": "quantitative", "title": "NT-proBNP (pg/mL)"},
              "stroke": {"field": "m", "type": "nominal", "scale": {"domain": ["Model 1", "Model 3"], "range": ["#285454", "#ff8000"]}, "legend": null}
            }}
         ]}
      ],
      "resolve": {"scale": {"y": "independent"}}
    },
    {
      "width": 792, "height": 980,
      "title": "C\u00a0\u00a0\u00a0\u00a0QUICKI",
      "layer": [
        {"data": {"name": "hC"}, "mark": {"type": "rect", "fill": "#c0e6e4", "stroke": "black", "strokeWidth": 2.5},
         "encoding": {
           "x": {"field": "b0", "type": "quantitative", "scale": {"domain": [0.1189, 0.2022], "nice": false, "zero": false}, "axis": {"values": [0.12, 0.14, 0.16, 0.18, 0.2], "format": ".2f"}, "title": "QUICKI"},
           "x2": {"field": "b1"},
           "y": {"field": "p", "type": "quantitative", "scale": {"domain": [0, 15], "nice": false}, "axis": {"orient": "right", "values": [0, 5, 10, 15]}, "title": "Percent"},
           "y2": {"datum": 0}
         }},
        {"data": {"name": "cC"},
         "encoding": {"x": {"field": "x", "type": "quantitative", "scale": {"domain": [0.1189, 0.2022], "nice": false, "zero": false}, "title": "QUICKI"}},
         "layer": [
           {"transform": [{"filter": "datum.m == 'Model 1'"}],
            "mark": {"type": "area", "interpolate": "monotone", "clip": true, "fill": "#176767", "fillOpacity": 0.25},
            "encoding": {
              "y": {"field": "lo", "type": "quantitative", "scale": {"domain": [10, 53.65], "nice": false, "zero": false}, "axis": {"orient": "left", "values": [10, 20, 30, 40, 50]}, "title": "NT-proBNP (pg/mL)"},
              "y2": {"field": "hi"}
            }},
           {"transform": [{"filter": "datum.m == 'Model 3'"}],
            "mark": {"type": "area", "interpolate": "monotone", "clip": true, "fill": "#ff8000", "fillOpacity": 0.21},
            "encoding": {"y": {"field": "lo", "type": "quantitative", "title": "NT-proBNP (pg/mL)"}, "y2": {"field": "hi"}}},
           {"mark": {"type": "line", "interpolate": "monotone", "strokeWidth": 7, "clip": true},
            "encoding": {
              "y": {"field": "fit", "type": "quantitative", "title": "NT-proBNP (pg/mL)"},
              "stroke": {"field": "m", "type": "nominal", "scale": {"domain": ["Model 1", "Model 3"], "range": ["#285454", "#ff8000"]}, "legend": null}
            }}
         ]}
      ],
      "resolve": {"scale": {"y": "independent"}}
    },
    {
      "width": 792, "height": 980,
      "title": "D\u00a0\u00a0\u00a0\u00a0Triglyceride glucose index",
      "layer": [
        {"data": {"name": "hD"}, "mark": {"type": "rect", "fill": "#c0e6e4", "stroke": "black", "strokeWidth": 2.5},
         "encoding": {
           "x": {"field": "b0", "type": "quantitative", "scale": {"domain": [7.5, 10.5], "nice": false, "zero": false}, "axis": {"values": [7.5, 8, 8.5, 9, 9.5, 10, 10.5], "format": ".1f"}, "title": "Triglyceride glucose index"},
           "x2": {"field": "b1"},
           "y": {"field": "p", "type": "quantitative", "scale": {"domain": [0, 15], "nice": false}, "axis": {"orient": "right", "values": [0, 5, 10, 15]}, "title": "Percent"},
           "y2": {"datum": 0}
         }},
        {"data": {"name": "cD"},
         "encoding": {"x": {"field": "x", "type": "quantitative", "scale": {"domain": [7.5, 10.5], "nice": false, "zero": false}, "title": "Triglyceride glucose index"}},
         "layer": [
           {"transform": [{"filter": "datum.m == 'Model 1'"}],
            "mark": {"type": "area", "interpolate": "monotone", "clip": true, "fill": "#176767", "fillOpacity": 0.25},
            "encoding": {
              "y": {"field": "lo", "type": "quantitative", "scale": {"domain": [10, 53.65], "nice": false, "zero": false}, "axis": {"orient": "left", "values": [10, 20, 30, 40, 50]}, "title": "NT-proBNP (pg/mL)"},
              "y2": {"field": "hi"}
            }},
           {"transform": [{"filter": "datum.m == 'Model 3'"}],
            "mark": {"type": "area", "interpolate": "monotone", "clip": true, "fill": "#ff8000", "fillOpacity": 0.21},
            "encoding": {"y": {"field": "lo", "type": "quantitative", "title": "NT-proBNP (pg/mL)"}, "y2": {"field": "hi"}}},
           {"mark": {"type": "line", "interpolate": "monotone", "strokeWidth": 7, "clip": true},
            "encoding": {
              "y": {"field": "fit", "type": "quantitative", "title": "NT-proBNP (pg/mL)"},
              "stroke": {"field": "m", "type": "nominal", "scale": {"domain": ["Model 1", "Model 3"], "range": ["#285454", "#ff8000"]}, "legend": null}
            }}
         ]}
      ],
      "resolve": {"scale": {"y": "independent"}}
    },
    {
      "width": 792, "height": 980,
      "title": "E\u00a0\u00a0\u00a0\u00a0Fasting insulin",
      "layer": [
        {"data": {"name": "hE"}, "mark": {"type": "rect", "fill": "#c0e6e4", "stroke": "black", "strokeWidth": 2.5},
         "encoding": {
           "x": {"field": "b0", "type": "quantitative", "scale": {"type": "log", "domain": [1.47, 50], "nice": false}, "axis": {"values": [2, 5, 10, 20, 50], "format": "d"}, "title": "Fasting insulin, µIU/mL"},
           "x2": {"field": "b1"},
           "y": {"field": "p", "type": "quantitative", "scale": {"domain": [0, 15], "nice": false}, "axis": {"orient": "right", "values": [0, 5, 10, 15]}, "title": "Percent"},
           "y2": {"datum": 0}
         }},
        {"data": {"name": "cE"},
         "encoding": {"x": {"field": "x", "type": "quantitative", "scale": {"type": "log", "domain": [1.47, 50], "nice": false}, "title": "Fasting insulin, µIU/mL"}},
         "layer": [
           {"transform": [{"filter": "datum.m == 'Model 1'"}],
            "mark": {"type": "area", "interpolate": "monotone", "clip": true, "fill": "#176767", "fillOpacity": 0.25},
            "encoding": {
              "y": {"field": "lo", "type": "quantitative", "scale": {"domain": [10, 53.65], "nice": false, "zero": false}, "axis": {"orient": "left", "values": [10, 20, 30, 40, 50]}, "title": "NT-proBNP (pg/mL)"},
              "y2": {"field": "hi"}
            }},
           {"transform": [{"filter": "datum.m == 'Model 3'"}],
            "mark": {"type": "area", "interpolate": "monotone", "clip": true, "fill": "#ff8000", "fillOpacity": 0.21},
            "encoding": {"y": {"field": "lo", "type": "quantitative", "title": "NT-proBNP (pg/mL)"}, "y2": {"field": "hi"}}},
           {"mark": {"type": "line", "interpolate": "monotone", "strokeWidth": 7, "clip": true},
            "encoding": {
              "y": {"field": "fit", "type": "quantitative", "title": "NT-proBNP (pg/mL)"},
              "stroke": {"field": "m", "type": "nominal", "scale": {"domain": ["Model 1", "Model 3"], "range": ["#285454", "#ff8000"]}, "legend": null}
            }}
         ]}
      ],
      "resolve": {"scale": {"y": "independent"}}
    },
    {
      "width": 792, "height": 980,
      "title": "F\u00a0\u00a0\u00a0\u00a0HOMA-IR",
      "layer": [
        {"data": {"name": "hF"}, "mark": {"type": "rect", "fill": "#c0e6e4", "stroke": "black", "strokeWidth": 2.5},
         "encoding": {
           "x": {"field": "b0", "type": "quantitative", "scale": {"type": "log", "domain": [0.348, 11.27], "nice": false}, "axis": {"values": [0.5, 1, 2, 5, 10], "format": ".1f"}, "title": "HOMA-IR"},
           "x2": {"field": "b1"},
           "y": {"field": "p", "type": "quantitative", "scale": {"domain": [0, 15], "nice": false}, "axis": {"orient": "right", "values": [0, 5, 10, 15]}, "title": "Percent"},
           "y2": {"datum": 0}
         }},
        {"data": {"name": "cF"},
         "encoding": {"x": {"field": "x", "type": "quantitative", "scale": {"type": "log", "domain": [0.348, 11.27], "nice": false}, "title": "HOMA-IR"}},
         "layer": [
           {"transform": [{"filter": "datum.m == 'Model 1'"}],
            "mark": {"type": "area", "interpolate": "monotone", "clip": true, "fill": "#176767", "fillOpacity": 0.25},
            "encoding": {
              "y": {"field": "lo", "type": "quantitative", "scale": {"domain": [10, 53.65], "nice": false, "zero": false}, "axis": {"orient": "left", "values": [10, 20, 30, 40, 50]}, "title": "NT-proBNP (pg/mL)"},
              "y2": {"field": "hi"}
            }},
           {"transform": [{"filter": "datum.m == 'Model 3'"}],
            "mark": {"type": "area", "interpolate": "monotone", "clip": true, "fill": "#ff8000", "fillOpacity": 0.21},
            "encoding": {"y": {"field": "lo", "type": "quantitative", "title": "NT-proBNP (pg/mL)"}, "y2": {"field": "hi"}}},
           {"mark": {"type": "line", "interpolate": "monotone", "strokeWidth": 7, "clip": true},
            "encoding": {
              "y": {"field": "fit", "type": "quantitative", "title": "NT-proBNP (pg/mL)"},
              "stroke": {"field": "m", "type": "nominal", "scale": {"domain": ["Model 1", "Model 3"], "range": ["#285454", "#ff8000"]}, "legend": null}
            }}
         ]}
      ],
      "resolve": {"scale": {"y": "independent"}}
    },
    {
      "width": 792, "height": 980,
      "title": "G\u00a0\u00a0\u00a0\u00a0HOMA-β",
      "layer": [
        {"data": {"name": "hG"}, "mark": {"type": "rect", "fill": "#c0e6e4", "stroke": "black", "strokeWidth": 2.5},
         "encoding": {
           "x": {"field": "b0", "type": "quantitative", "scale": {"type": "log", "domain": [20, 500], "nice": false}, "axis": {"values": [20, 50, 100, 200, 500], "format": "d"}, "title": "HOMA-β"},
           "x2": {"field": "b1"},
           "y": {"field": "p", "type": "quantitative", "scale": {"domain": [0, 15], "nice": false}, "axis": {"orient": "right", "values": [0, 5, 10, 15]}, "title": "Percent"},
           "y2": {"datum": 0}
         }},
        {"data": {"name": "cG"},
         "encoding": {"x": {"field": "x", "type": "quantitative", "scale": {"type": "log", "domain": [20, 500], "nice": false}, "title": "HOMA-β"}},
         "layer": [
           {"transform": [{"filter": "datum.m == 'Model 1'"}],
            "mark": {"type": "area", "interpolate": "monotone", "clip": true, "fill": "#176767", "fillOpacity": 0.25},
            "encoding": {
              "y": {"field": "lo", "type": "quantitative", "scale": {"domain": [10, 53.65], "nice": false, "zero": false}, "axis": {"orient": "left", "values": [10, 20, 30, 40, 50]}, "title": "NT-proBNP (pg/mL)"},
              "y2": {"field": "hi"}
            }},
           {"transform": [{"filter": "datum.m == 'Model 3'"}],
            "mark": {"type": "area", "interpolate": "monotone", "clip": true, "fill": "#ff8000", "fillOpacity": 0.21},
            "encoding": {"y": {"field": "lo", "type": "quantitative", "title": "NT-proBNP (pg/mL)"}, "y2": {"field": "hi"}}},
           {"mark": {"type": "line", "interpolate": "monotone", "strokeWidth": 7, "clip": true},
            "encoding": {
              "y": {"field": "fit", "type": "quantitative", "title": "NT-proBNP (pg/mL)"},
              "stroke": {"field": "m", "type": "nominal", "scale": {"domain": ["Model 1", "Model 3"], "range": ["#285454", "#ff8000"]}, "legend": null}
            }}
         ]}
      ],
      "resolve": {"scale": {"y": "independent"}}
    },
    {
      "width": 792, "height": 980,
      "title": "H\u00a0\u00a0\u00a0\u00a0Insulin-to-glucose ratio",
      "layer": [
        {"data": {"name": "hH"}, "mark": {"type": "rect", "fill": "#c0e6e4", "stroke": "black", "strokeWidth": 2.5},
         "encoding": {
           "x": {"field": "b0", "type": "quantitative", "scale": {"type": "log", "domain": [0.01912, 0.5], "nice": false}, "axis": {"values": [0.02, 0.05, 0.1, 0.2, 0.5], "format": ".2f"}, "title": "Insulin-to-glucose ratio"},
           "x2": {"field": "b1"},
           "y": {"field": "p", "type": "quantitative", "scale": {"domain": [0, 15], "nice": false}, "axis": {"orient": "right", "values": [0, 5, 10, 15]}, "title": "Percent"},
           "y2": {"datum": 0}
         }},
        {"data": {"name": "cH"},
         "encoding": {"x": {"field": "x", "type": "quantitative", "scale": {"type": "log", "domain": [0.01912, 0.5], "nice": false}, "title": "Insulin-to-glucose ratio"}},
         "layer": [
           {"transform": [{"filter": "datum.m == 'Model 1'"}],
            "mark": {"type": "area", "interpolate": "monotone", "clip": true, "fill": "#176767", "fillOpacity": 0.25},
            "encoding": {
              "y": {"field": "lo", "type": "quantitative", "scale": {"domain": [10, 53.65], "nice": false, "zero": false}, "axis": {"orient": "left", "values": [10, 20, 30, 40, 50]}, "title": "NT-proBNP (pg/mL)"},
              "y2": {"field": "hi"}
            }},
           {"transform": [{"filter": "datum.m == 'Model 3'"}],
            "mark": {"type": "area", "interpolate": "monotone", "clip": true, "fill": "#ff8000", "fillOpacity": 0.21},
            "encoding": {"y": {"field": "lo", "type": "quantitative", "title": "NT-proBNP (pg/mL)"}, "y2": {"field": "hi"}}},
           {"mark": {"type": "line", "interpolate": "monotone", "strokeWidth": 7, "clip": true},
            "encoding": {
              "y": {"field": "fit", "type": "quantitative", "title": "NT-proBNP (pg/mL)"},
              "stroke": {"field": "m", "type": "nominal", "scale": {"domain": ["Model 1", "Model 3"], "range": ["#285454", "#ff8000"]}, "legend": null}
            }}
         ]}
      ],
      "resolve": {"scale": {"y": "independent"}}
    }
  ],
  "config": {
    "view": {"stroke": null},
    "font": "DejaVu Sans",
    "axis": {"grid": false, "labelFontSize": 44, "titleFontSize": 44, "titleFontWeight": "normal", "labelColor": "black", "titleColor": "black",
      "domainColor": "black", "tickColor": "black", "domainWidth": 2.5, "tickWidth": 2.5, "tickSize": 13, "labelPadding": 10,
      "labelFlush": false, "labelOverlap": false, "labelFont": "DejaVu Sans", "titleFont": "DejaVu Sans"},
    "axisX": {"titlePadding": 34, "labelPadding": 14},
    "axisLeft": {"titlePadding": 30},
    "axisRight": {"domainColor": "#00ffff", "tickColor": "#00ffff", "labelColor": "#00ffff", "titleColor": "#00ffff", "domainWidth": 4, "tickWidth": 4, "titlePadding": 18},
    "title": {"anchor": "start", "frame": "bounds", "font": "DejaVu Sans", "fontSize": 44, "fontWeight": "normal", "color": "black", "offset": 56, "dx": 8}
  }
}
